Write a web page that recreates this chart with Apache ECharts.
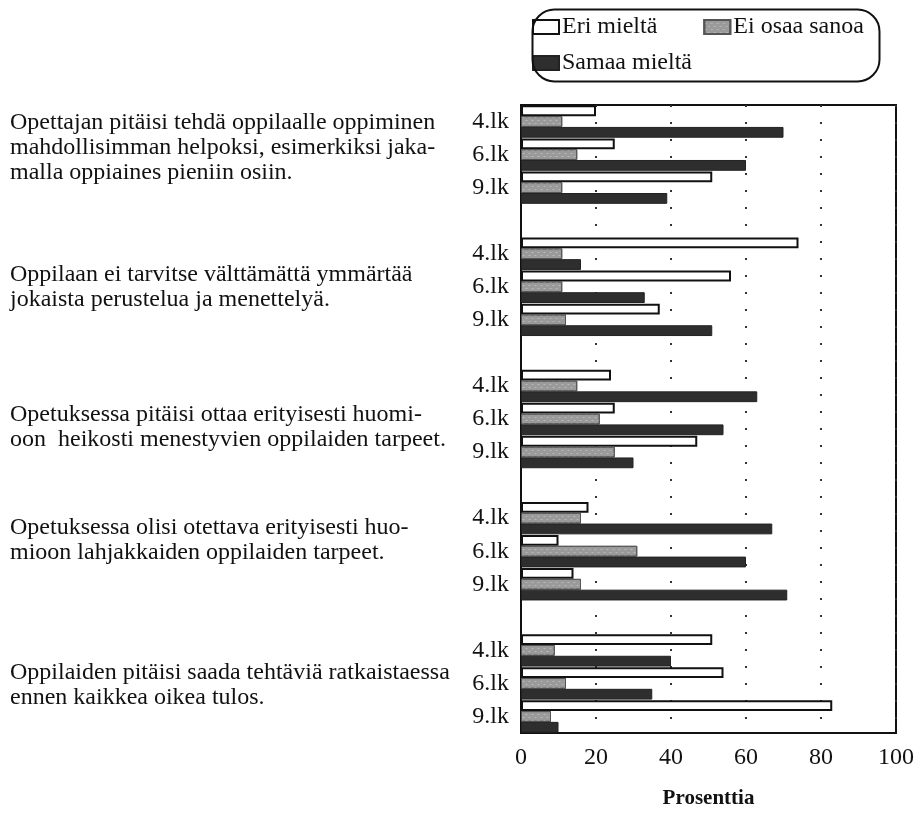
<!DOCTYPE html>
<html>
<head>
<meta charset="utf-8">
<style>
  html, body { margin: 0; padding: 0; background: #ffffff; }
  #chart { width: 917px; height: 814px; }
</style>
<script src="https://cdn.jsdelivr.net/npm/echarts@6/dist/echarts.min.js"></script>
</head>
<body>
<div id="chart"></div>
<script>
// Grade levels shown for every statement
const grades = ['4.lk', '6.lk', '9.lk'];

// Statements (one entry per group, line breaks as printed)
const statements = [
  'Opettajan pitäisi tehdä oppilaalle oppiminen\nmahdollisimman helpoksi, esimerkiksi jaka-\nmalla oppiaines pieniin osiin.',
  'Oppilaan ei tarvitse välttämättä ymmärtää\njokaista perustelua ja menettelyä.',
  'Opetuksessa pitäisi ottaa erityisesti huomi-\noon  heikosti menestyvien oppilaiden tarpeet.',
  'Opetuksessa olisi otettava erityisesti huo-\nmioon lahjakkaiden oppilaiden tarpeet.',
  'Oppilaiden pitäisi saada tehtäviä ratkaistaessa\nennen kaikkea oikea tulos.'
];

// Percentages per statement, in grade order 4.lk, 6.lk, 9.lk
const eriMielta   = [[20, 25, 51], [74, 56, 37], [24, 25, 47], [18, 10, 14], [51, 54, 83]];
const eiOsaaSanoa = [[11, 15, 11], [11, 11, 12], [15, 21, 25], [16, 31, 16], [9, 12, 8]];
const samaaMielta = [[70, 60, 39], [16, 33, 51], [63, 54, 30], [67, 60, 71], [40, 35, 10]];

const seriesNames = ['Eri mieltä', 'Ei osaa sanoa', 'Samaa mieltä'];
const xTicks = [0, 20, 40, 60, 80, 100];
const xTitle = 'Prosenttia';

// Category rows: three grades per statement, an empty spacer row between statements
const categories = [];
statements.forEach((s, i) => {
  grades.forEach(g => categories.push(g));
  if (i < statements.length - 1) categories.push('');
});

function rowsFor(values) {
  const out = [];
  values.forEach((group, i) => {
    group.forEach(v => out.push(v));
    if (i < values.length - 1) out.push('-');
  });
  return out;
}

const FONT = "'Liberation Serif', 'Times New Roman', serif";
const INK = '#111111';

const chart = echarts.init(document.getElementById('chart'), null, { renderer: 'canvas' });

// Left-hand statement texts (top of first line for each group)
const statementTop = [110, 262, 402, 515, 660];

const option = {
  animation: false,
  backgroundColor: '#ffffff',
  textStyle: { fontFamily: FONT, color: INK },
  grid: {
    left: 521, right: 19, top: 105, bottom: 76,
    show: true, borderColor: INK, borderWidth: 2, backgroundColor: 'transparent'
  },
  legend: [
    {
      data: [seriesNames[0], seriesNames[1]],
      left: 530, top: 13, padding: 2,
      itemWidth: 26, itemHeight: 14, itemGap: 46,
      icon: 'rect',
      selectedMode: false,
      textStyle: { fontFamily: FONT, fontSize: 24, color: INK, padding: [0, 0, 0, -2] }
    },
    {
      data: [seriesNames[2]],
      left: 530, top: 49, padding: 2,
      itemWidth: 26, itemHeight: 14,
      icon: 'rect',
      selectedMode: false,
      textStyle: { fontFamily: FONT, fontSize: 24, color: INK, padding: [0, 0, 0, -2] }
    }
  ],
  xAxis: {
    type: 'value',
    min: xTicks[0], max: xTicks[xTicks.length - 1], interval: 20,
    axisLine: { show: true, lineStyle: { color: INK, width: 2 } },
    axisTick: { show: false },
    axisLabel: { fontFamily: FONT, fontSize: 24, color: INK, margin: 13 },
    splitLine: { show: true, lineStyle: { color: '#333', width: 2, type: [2, 15] } },
    name: xTitle,
    nameLocation: 'middle',
    nameGap: 55,
    nameTextStyle: { fontFamily: FONT, fontSize: 21, fontWeight: 'bold', color: INK }
  },
  yAxis: {
    type: 'category',
    inverse: true,
    data: categories,
    axisLine: { show: true, lineStyle: { color: INK, width: 2 } },
    axisTick: { show: false },
    axisLabel: { interval: 0, fontFamily: FONT, fontSize: 24, color: INK, margin: 12 },
    splitLine: { show: false }
  },
  series: [
    {
      name: seriesNames[0], type: 'bar',
      data: rowsFor(eriMielta),
      barGap: '0%', barCategoryGap: '2%',
      itemStyle: { color: '#ffffff', borderColor: INK, borderWidth: 2 }
    },
    {
      name: seriesNames[1], type: 'bar',
      data: rowsFor(eiOsaaSanoa),
      barGap: '0%', barCategoryGap: '2%',
      itemStyle: {
        color: '#9a9a9a', borderColor: '#555555', borderWidth: 1,
        decal: {
          symbol: 'rect', symbolSize: 0.6,
          color: 'rgba(255,255,255,0.55)',
          dashArrayX: [[3, 3], [0, 3, 3, 0]],
          dashArrayY: [1, 2],
          rotation: 0
        }
      }
    },
    {
      name: seriesNames[2], type: 'bar',
      data: rowsFor(samaaMielta),
      barGap: '0%', barCategoryGap: '2%',
      itemStyle: { color: '#2e2e2e', borderColor: '#222222', borderWidth: 1 }
    }
  ],
  graphic: [
    {
      type: 'rect', left: 530, top: 7, z: 10, silent: true,
      shape: { width: 347, height: 72, r: 22 },
      style: { fill: 'none', stroke: INK, lineWidth: 2 }
    }
  ].concat(statements.map((s, i) => ({
    type: 'text', left: 10, top: statementTop[i], silent: true,
    style: { text: s, font: '24px ' + FONT, lineHeight: 25, fill: INK }
  })))
};

chart.setOption(option);
</script>
</body>
</html>
